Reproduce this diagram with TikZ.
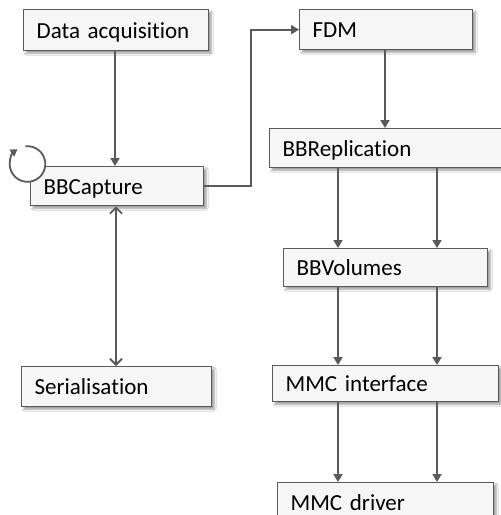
\documentclass[tikz,border=0pt]{standalone}
\usepackage{fontspec}
\setmainfont{Carlito}[Ligatures=NoCommon]
\usetikzlibrary{arrows.meta,shadows.blur}
\definecolor{boxfill}{HTML}{F6F6F6}
\definecolor{boxline}{HTML}{5A5A5A}
\definecolor{wire}{HTML}{5A5A5A}
\begin{document}
\begin{tikzpicture}[x=1pt,y=-1pt,
  stage/.style={draw=boxline, line width=1.3pt, fill=boxfill,
    anchor=north west, inner xsep=13pt, inner ysep=0pt, align=left,
    text height=17pt, text depth=1pt,
    font=\fontsize{23}{27}\selectfont,
    blur shadow={shadow xshift=2.5pt, shadow yshift=-2.5pt, shadow blur steps=6, shadow opacity=40}},
  flow/.style={draw=wire, line width=1.8pt, -{Triangle[length=8pt,width=9pt]}},
  both/.style={draw=wire, line width=1.8pt, {Straight Barb[length=6pt,width=12pt]}-{Straight Barb[length=6pt,width=12pt]}}
]
\clip (0,0) rectangle (501,515);
\fill[white] (0,0) rectangle (501,515);

% stage boxes
\node[stage, text width=159pt, minimum height=41pt] (da)  at (23,9)    {Data acquisition};
\node[stage, text width=147pt, minimum height=39pt] (cap) at (30,166)  {BBCapture};
\node[stage, text width=164pt, minimum height=40pt] (ser) at (21,366)  {Serialisation};
\node[stage, text width=147pt, minimum height=40pt] (fdm) at (299,9)   {FDM};
\node[stage, text width=225pt, minimum height=39pt] (rep) at (269,128) {BBReplication};
\node[stage, text width=178pt, minimum height=38pt] (vol) at (283,248) {BBVolumes};
\node[stage, text width=200pt, minimum height=36pt] (mmi) at (272,365) {MMC interface};
\node[stage, text width=190pt, minimum height=40pt] (drv) at (277,482) {MMC driver};

% self loop on BBCapture (clockwise, drawn over the box corner)
\node[circle, fill=white, minimum size=36pt, inner sep=0pt] (loop) at (27.5,164) {};
\draw[wire, line width=1.8pt, -{Triangle[length=7pt,width=8pt]}]
  (loop.center) ++(-97:17.8) arc[start angle=-97, end angle=236, radius=17.8];

% connectors
\draw[flow] (da.south -| 115,0) -- (cap.north -| 115,0);
\draw[both] (cap.south -| 116,0) -- (ser.north -| 116,0);
\draw[flow] (cap.east) -- ++(47,0) |- (fdm.west);
\draw[flow] (fdm.south -| 385,0) -- (rep.north -| 385,0);
\foreach \xx in {338,437} {
  \draw[flow] (rep.south -| \xx,0) -- (vol.north -| \xx,0);
  \draw[flow] (vol.south -| \xx,0) -- (mmi.north -| \xx,0);
  \draw[flow] (mmi.south -| \xx,0) -- (drv.north -| \xx,0);
}
\end{tikzpicture}
\end{document}
